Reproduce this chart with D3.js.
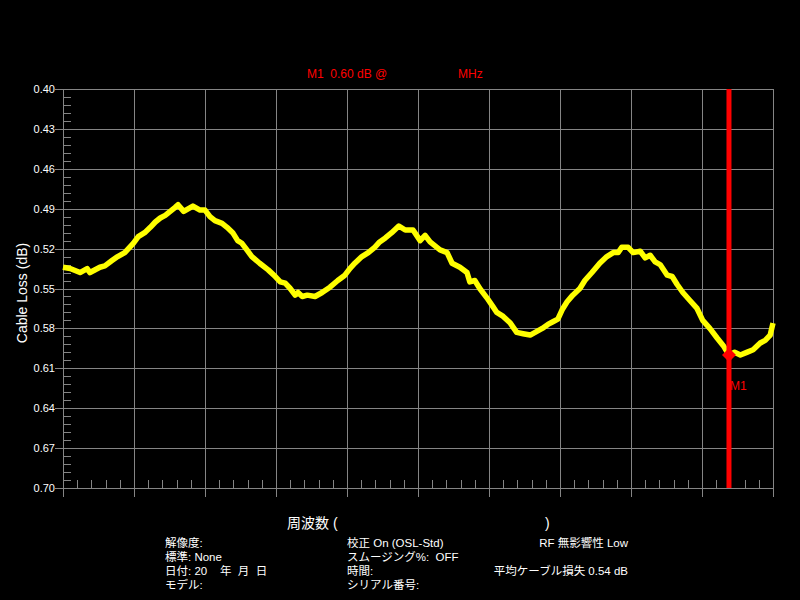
<!DOCTYPE html>
<html>
<head>
<meta charset="utf-8">
<script src="https://cdn.jsdelivr.net/npm/d3@7"></script>
<style>
  body { margin: 0; background: #000; }
  svg text { font-family: "Liberation Sans", Arial, "Noto Sans CJK JP", sans-serif; white-space: pre; }
</style>
</head>
<body>
<div id="chart"></div>
<script>
// Frequency position (percent of span) and measured cable loss (dB)
var freqPos = [0, 1.0, 2.4, 3.4, 3.8, 5.2, 5.9, 6.9, 7.7, 8.7, 9.9, 10.6, 11.5, 12.3, 13.0, 13.7, 14.4, 15.1, 15.8, 16.2,
  17.0, 18.3, 19.3, 20.0, 20.7, 21.4, 22.4, 23.1, 23.9, 24.6, 25.2, 25.9, 26.6, 27.7, 28.9, 29.9, 30.6, 31.3, 32.0, 32.7,
  33.1, 33.7, 34.4, 35.5, 36.5, 37.6, 38.7, 39.7, 40.4, 41.1, 42.1, 43.0, 43.9, 44.6, 45.4, 46.3, 47.3, 48.2, 49.3, 50.3,
  51.0, 51.7, 53.1, 54.1, 54.8, 55.9, 56.9, 57.3, 58.0, 58.7, 59.7, 60.6, 61.1, 62.0, 63.0, 63.9, 64.8, 65.8, 66.5, 67.5,
  68.3, 69.0, 69.7, 70.3, 71.0, 71.8, 72.8, 73.5, 74.5, 75.6, 76.6, 77.5, 78.2, 78.7, 79.6, 80.3, 81.3, 82.0, 82.7, 83.4,
  84.1, 85.1, 85.8, 86.5, 87.3, 88.3, 89.3, 90.1, 91.1, 92.1, 93.0, 93.8, 94.6, 95.4, 96.3, 97.2, 98.2, 98.9, 99.6, 100];
var lossDb = [0.534, 0.535, 0.538, 0.535, 0.538, 0.534, 0.533, 0.529, 0.526, 0.523, 0.516, 0.511, 0.508, 0.504, 0.500, 0.497, 0.495, 0.492, 0.489, 0.487,
  0.492, 0.488, 0.491, 0.491, 0.496, 0.499, 0.501, 0.504, 0.508, 0.514, 0.516, 0.521, 0.526, 0.531, 0.536, 0.541, 0.545, 0.546, 0.550, 0.555,
  0.553, 0.556, 0.555, 0.556, 0.553, 0.549, 0.544, 0.540, 0.535, 0.531, 0.526, 0.523, 0.519, 0.515, 0.512, 0.508, 0.503, 0.506, 0.506, 0.514,
  0.510, 0.515, 0.521, 0.523, 0.531, 0.534, 0.538, 0.545, 0.544, 0.550, 0.557, 0.564, 0.568, 0.571, 0.576, 0.583, 0.584, 0.585, 0.583, 0.580,
  0.577, 0.575, 0.573, 0.566, 0.560, 0.555, 0.550, 0.544, 0.538, 0.531, 0.526, 0.523, 0.523, 0.519, 0.519, 0.523, 0.522, 0.527, 0.525, 0.530,
  0.532, 0.540, 0.541, 0.547, 0.553, 0.559, 0.565, 0.574, 0.580, 0.587, 0.593, 0.600, 0.598, 0.600, 0.598, 0.596, 0.591, 0.589, 0.585, 0.576];

var yTicks = [0.40, 0.43, 0.46, 0.49, 0.52, 0.55, 0.58, 0.61, 0.64, 0.67, 0.70];
var xTicks = [0, 10, 20, 30, 40, 50, 60, 70, 80, 90, 100];

var markerName = "M1";
var markerPos = 93.8;
var markerDb = 0.60;

var infoLeft = ["解像度:", "標準: None", "日付: 20    年  月  日", "モデル:"];
var infoMid = ["校正 On (OSL-Std)", "スムージング%:  OFF", "時間:", "シリアル番号:"];
var infoRight = ["RF 無影響性 Low", "", "平均ケーブル損失 0.54 dB", ""];

var width = 800, height = 600;
var plotL = 63, plotR = 773, plotT = 89, plotB = 488;
var gridColor = "#858585";

var svg = d3.select("#chart").append("svg")
  .attr("width", width).attr("height", height)
  .style("background", "#000");

var x = d3.scaleLinear().domain([0, 100]).range([plotL, plotR]);
var y = d3.scaleLinear().domain([0.40, 0.70]).range([plotT, plotB]);

function px(v) { return Math.round(v) + 0.5; }

// grid
var grid = svg.append("g").attr("stroke", gridColor).attr("stroke-width", 1).attr("shape-rendering", "crispEdges");
grid.selectAll(".h").data(yTicks).enter().append("line")
  .attr("x1", plotL - 8).attr("x2", plotR)
  .attr("y1", function(d) { return px(y(d)); })
  .attr("y2", function(d) { return px(y(d)); });
grid.selectAll(".v").data(xTicks).enter().append("line")
  .attr("x1", function(d) { return px(x(d)); })
  .attr("x2", function(d) { return px(x(d)); })
  .attr("y1", plotT).attr("y2", plotB + 9);

// minor ticks
var yMinor = d3.range(0, 50).map(function(i) { return 0.40 + i * 0.006; }).filter(function(d, i) { return i % 5 != 0; });
grid.selectAll(".ym").data(yMinor).enter().append("line")
  .attr("x1", plotL).attr("x2", plotL + 8)
  .attr("y1", function(d) { return px(y(d)); })
  .attr("y2", function(d) { return px(y(d)); });
var xMinor = d3.range(0, 50).map(function(i) { return i * 2; }).filter(function(d, i) { return i % 5 != 0; });
grid.selectAll(".xm").data(xMinor).enter().append("line")
  .attr("x1", function(d) { return px(x(d)); })
  .attr("x2", function(d) { return px(x(d)); })
  .attr("y1", plotB - 8).attr("y2", plotB);

// y labels
svg.append("g").selectAll("text").data(yTicks).enter().append("text")
  .attr("x", plotL - 8).attr("y", function(d) { return y(d) + 4; })
  .attr("text-anchor", "end").attr("fill", "#fff").style("font-size", "11px")
  .text(function(d) { return d.toFixed(2); });

svg.append("text")
  .attr("transform", "translate(27,293) rotate(-90)")
  .attr("text-anchor", "middle").attr("fill", "#fff").style("font-size", "14px")
  .text("Cable Loss (dB)");

// trace
var line = d3.line().x(function(d, i) { return x(freqPos[i]); }).y(function(d) { return y(d); });
svg.append("path").datum(lossDb)
  .attr("d", line).attr("fill", "none").attr("stroke", "#ffff00")
  .attr("stroke-width", 5.5).attr("stroke-linejoin", "round");

// marker
var mx = x(markerPos), my = y(markerDb);
svg.append("line").attr("x1", mx).attr("x2", mx).attr("y1", plotT).attr("y2", plotB)
  .attr("stroke", "#ff0000").attr("stroke-width", 5);
svg.append("path").attr("d", "M0,-7L7,0L0,7L-7,0Z")
  .attr("transform", "translate(" + mx + "," + my + ")").attr("fill", "#ff0000");
svg.append("text").attr("x", mx + 1).attr("y", my + 35)
  .attr("fill", "#ff0000").style("font-size", "12px").text(markerName);

// marker readout
svg.append("text").attr("x", 307).attr("y", 78).attr("fill", "#ff0000").style("font-size", "12px")
  .text(markerName + "  " + markerDb.toFixed(2) + " dB @");
svg.append("text").attr("x", 458).attr("y", 78).attr("fill", "#ff0000").style("font-size", "12px")
  .text("MHz");

// x title
svg.append("text").attr("x", 287).attr("y", 528).attr("fill", "#fff").style("font-size", "14px").text("周波数 (");
svg.append("text").attr("x", 545).attr("y", 528).attr("fill", "#fff").style("font-size", "14px").text(")");

// info rows
var rowY = [547, 561, 575, 589];
function infoCol(arr, xpos, anchor) {
  svg.append("g").selectAll("text").data(arr).enter().append("text")
    .attr("x", xpos).attr("y", function(d, i) { return rowY[i]; })
    .attr("text-anchor", anchor)
    .attr("fill", "#fff").style("font-size", "11.5px")
    .text(function(d) { return d; });
}
infoCol(infoLeft, 165, "start");
infoCol(infoMid, 347, "start");
infoCol(infoRight, 628, "end");
</script>
</body>
</html>
